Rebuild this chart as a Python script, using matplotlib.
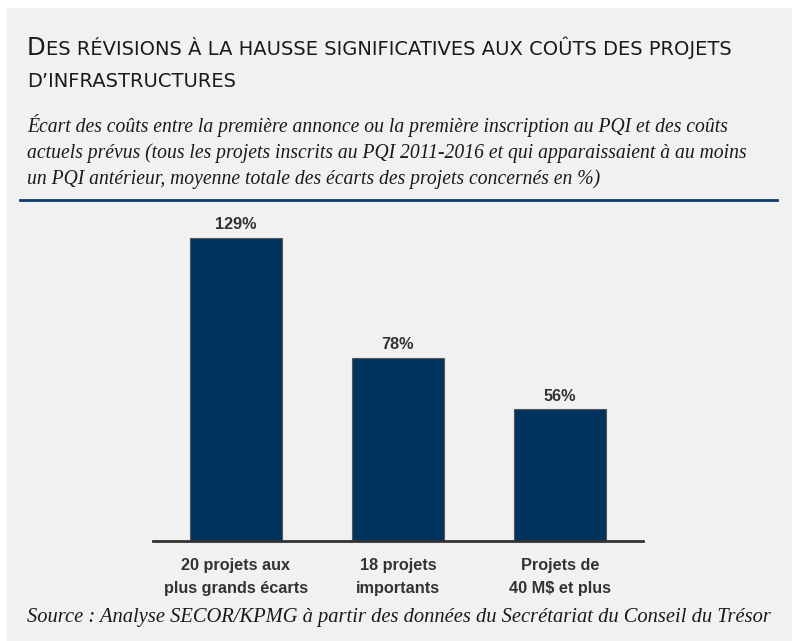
import matplotlib
matplotlib.use('Agg')
import matplotlib.pyplot as plt
from matplotlib.patches import Rectangle
from matplotlib.lines import Line2D

categories = ["20 projets aux\nplus grands écarts", "18 projets\nimportants", "Projets de\n40 M$ et plus"]
values = [129, 78, 56]
value_labels = ["129%", "78%", "56%"]

title_line1 = [("D", 17.5), ("ES RÉVISIONS À LA HAUSSE SIGNIFICATIVES AUX COÛTS DES PROJETS", 14.05)]
title_line2 = [("D’INFRASTRUCTURES", 14.05)]
subtitle_lines = [
    "Écart des coûts entre la première annonce ou la première inscription au PQI et des coûts",
    "actuels prévus (tous les projets inscrits au PQI 2011-2016 et qui apparaissaient à au moins",
    "un PQI antérieur, moyenne totale des écarts des projets concernés en %)",
]
source = "Source : Analyse SECOR/KPMG à partir des données du Secrétariat du Conseil du Trésor"

W, H = 792, 641
fig = plt.figure(figsize=(W / 100, H / 100), dpi=100)
fig.patch.set_facecolor('white')
fig.patches.append(Rectangle((7 / W, 0), 1, 1 - 8 / H, transform=fig.transFigure,
                             facecolor='#f1f1f1', edgecolor='none', zorder=-10))


def fx(px):
    return px / W


def fy(py):
    return 1 - py / H


renderer = fig.canvas.get_renderer()


def smallcaps(pieces, x, y):
    for txt, size in pieces:
        t = fig.text(fx(x), fy(y), txt, fontsize=size, family='DejaVu Sans',
                     color='#1a1a1a', va='baseline', ha='left')
        bb = t.get_window_extent(renderer)
        x += bb.width


smallcaps(title_line1, 27, 55)
smallcaps(title_line2, 27, 87)

for i, line in enumerate(subtitle_lines):
    fig.text(fx(27), fy(132 + 26 * i), line, fontsize=14.15, family='Liberation Serif',
             style='italic', color='#1a1a1a', va='baseline', ha='left')

fig.add_artist(Line2D([fx(20), fx(777)], [fy(200), fy(200)], transform=fig.transFigure,
                      color='#0d3b6e', lw=2))

fig.text(fx(27), fy(622), source, fontsize=14.8, family='Liberation Serif',
         style='italic', color='#1a1a1a', va='baseline', ha='left')

ax = fig.add_axes([fx(153), fy(541), (643 - 153) / W, (541 - 215) / H])
ax.set_facecolor('none')
ax.set_ylim(0, (541 - 215) / (303 / 129))
ax.set_xlim(-0.51, 2.51)
x = list(range(len(values)))
bars = ax.bar(x, values, width=0.566, color='#01335f', edgecolor='#555555', linewidth=0.8)
for xi, v, lab in zip(x, values, value_labels):
    ax.annotate(lab, (xi, v), xytext=(0, 4), textcoords='offset points', ha='center', va='bottom',
                fontsize=11.7, fontweight='bold', family='Liberation Sans', color='#333333')
for s in ['top', 'right', 'left']:
    ax.spines[s].set_visible(False)
ax.spines['bottom'].set_color('#333333')
ax.spines['bottom'].set_linewidth(2)
ax.set_yticks([])
ax.set_xticks(x)
ax.set_xticklabels(categories, fontsize=11.7, fontweight='bold', family='Liberation Sans',
                   color='#333333', linespacing=1.7)
ax.tick_params(axis='x', length=0, pad=12)

fig.savefig('out.png', dpi=100, facecolor=fig.get_facecolor())
